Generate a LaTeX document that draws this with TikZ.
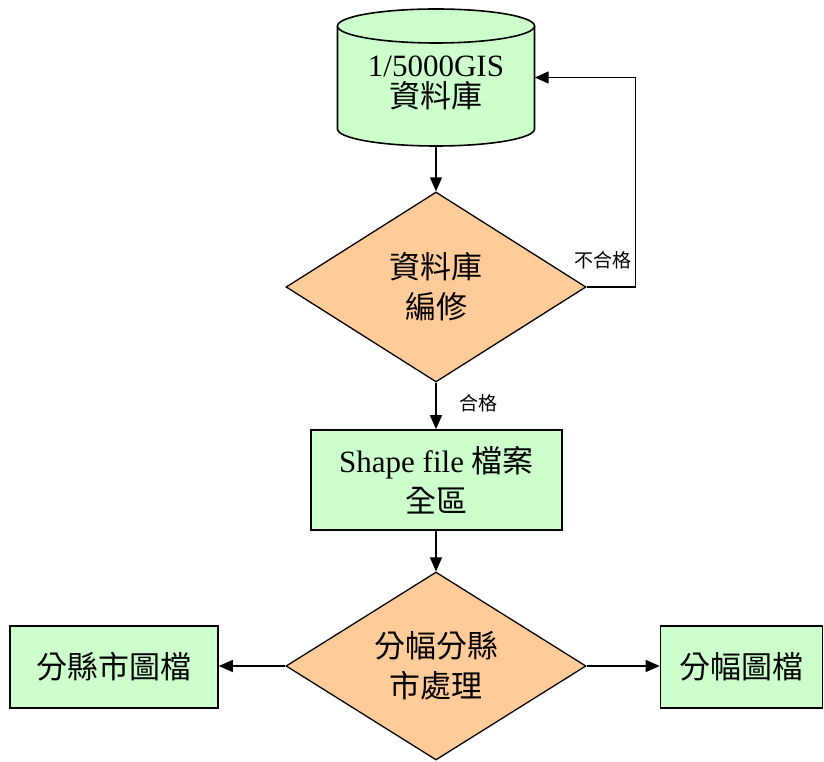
\documentclass[tikz,border=0pt]{standalone}
\usepackage{fontspec}
\setmainfont{Liberation Serif}
\newfontfamily\cjk{Noto Sans CJK TC}
\usetikzlibrary{shapes.geometric,arrows.meta}
\definecolor{boxgreen}{HTML}{CCFFCC}
\definecolor{decorange}{HTML}{FFCC99}
\begin{document}
\begin{tikzpicture}[x=1pt,y=1pt,
  proc/.style={draw, line width=1.6pt, fill=boxgreen, inner sep=0pt, align=center, font=\fontsize{31}{40}\selectfont},
  dec/.style={diamond, draw, line width=1.3pt, fill=decorange, inner sep=0pt, aspect=1.58, align=center, font=\fontsize{31}{40}\selectfont},
  arr/.style={line width=1.4pt, -{Triangle[length=14pt,width=12pt]}},
  lbl/.style={inner sep=0pt, font=\fontsize{19}{22}\selectfont\cjk}]
\useasboundingbox (0,0) rectangle (824,761);
% cylinder
\fill[boxgreen] (337.5,735) -- (337.5,632) arc[start angle=180,end angle=360,x radius=98.5pt,y radius=17pt] -- (534.5,735) -- cycle;
\draw[line width=1.6pt] (337.5,735) -- (337.5,632) arc[start angle=180,end angle=360,x radius=98.5pt,y radius=17pt] -- (534.5,735);
\draw[fill=boxgreen, line width=1.6pt] (436,735) ellipse [x radius=98.5pt, y radius=17pt];
\node[minimum width=197pt, minimum height=137pt, inner sep=0pt] (db) at (436,683.5) {};
\node[align=center, inner sep=0pt, font=\fontsize{31}{31}\selectfont] (dbtext) at (436,678) {1/5000GIS\\{\cjk 資料庫}};
% diamonds and boxes
\node[dec, minimum width=300pt, minimum height=190pt] (d1) at (436,474) {{\cjk 資料庫}\\{\cjk 編修}};
\node[proc, minimum width=251pt, minimum height=100pt] (b1) at (436.5,281) {Shape file {\cjk 檔案}\\{\cjk 全區}};
\node[dec, minimum width=300pt, minimum height=188pt] (d2) at (436,95) {{\cjk 分幅分縣}\\{\cjk 市處理}};
\node[proc, minimum width=208pt, minimum height=82pt, font=\fontsize{31}{40}\selectfont\cjk] (l) at (114,94) {分縣市圖檔};
\node[proc, minimum width=162pt, minimum height=82pt, font=\fontsize{31}{40}\selectfont\cjk] (r) at (741.5,94) {分幅圖檔};
% connectors
\draw[arr] (db.south) -- (d1.north);
\draw[arr] (d1.east) -- ++(49,0) |- (db.east);
\draw[arr] (d1.south) -- (d1.south |- b1.north);
\draw[arr] (b1.south -| d2.north) -- (d2.north);
\draw[arr] (d2.west) -- (d2.west -| l.east);
\draw[arr] (d2.east) -- (d2.east -| r.west);
% labels
\node[lbl] (nopass) at (603,501) {不合格};
\node[lbl] (pass) at (478,358) {合格};
\end{tikzpicture}
\end{document}
